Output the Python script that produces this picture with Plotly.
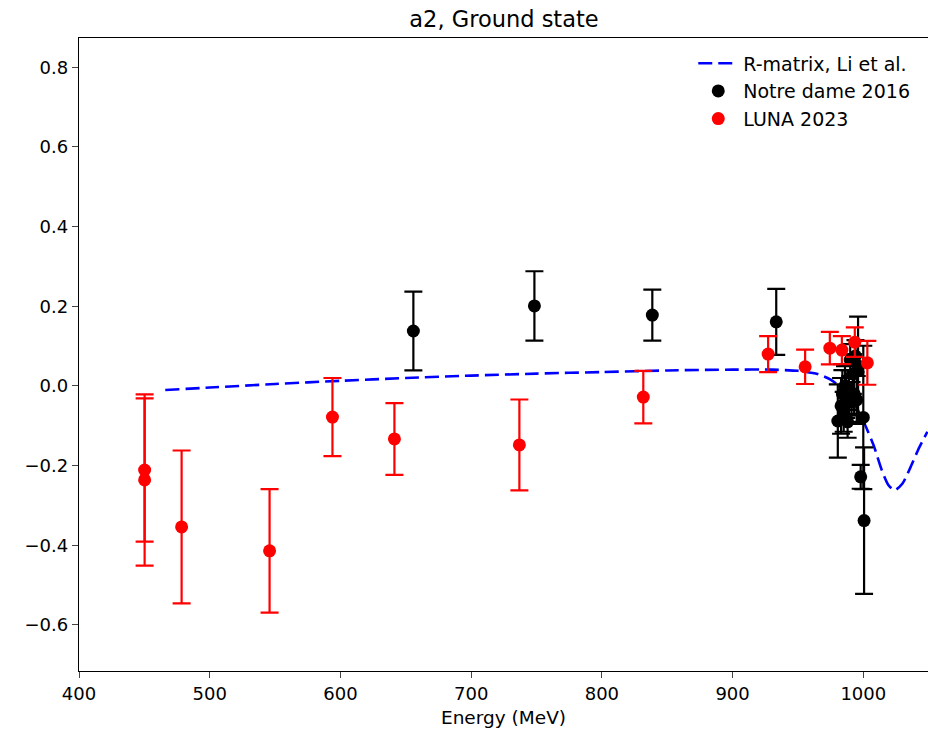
import plotly.graph_objects as go

# R-matrix curve
rm_x = [466, 500, 550, 600, 650, 700, 750, 800, 850, 900, 930, 950, 965, 975,
        985, 995, 1001, 1008, 1014, 1019, 1024, 1030, 1036, 1042, 1049]
rm_y = [-0.010, -0.004, 0.005, 0.013, 0.020, 0.026, 0.031, 0.035, 0.039, 0.041,
        0.041, 0.038, 0.030, 0.016, -0.010, -0.055, -0.095, -0.150, -0.210,
        -0.248, -0.262, -0.245, -0.205, -0.160, -0.115]

# Notre Dame 2016
nd_x = [655.8, 748.4, 838.6, 933.4,
        980.5, 983, 984, 985, 986, 987, 988, 989, 990, 991, 992, 993, 994,
        995, 996, 998, 1000, 1000.6]
nd_y = [0.138, 0.201, 0.178, 0.161,
        -0.088, -0.050, -0.020, -0.065, 0.000, -0.030, -0.090, -0.010, 0.065,
        -0.040, 0.030, -0.020, 0.075, -0.035, 0.050, -0.228, -0.079, -0.338]
nd_err = [0.099, 0.087, 0.064, 0.083,
          0.092, 0.070, 0.060, 0.050, 0.050, 0.050, 0.040, 0.050, 0.040,
          0.050, 0.050, 0.050, 0.040, 0.060, 0.124, 0.030, 0.180, 0.184]

# LUNA 2023
luna_x = [450.2, 450.2, 478.5, 545.8, 593.9, 641.3, 736.9, 831.7, 927.2,
          955.5, 974.4, 983.6, 993.5, 1003.1]
luna_y = [-0.211, -0.236, -0.354, -0.414, -0.078, -0.133, -0.148, -0.028,
          0.080, 0.048, 0.095, 0.090, 0.110, 0.058]
luna_err = [0.180, 0.215, 0.192, 0.155, 0.098, 0.090, 0.114, 0.066, 0.045,
            0.043, 0.041, 0.035, 0.037, 0.055]

x_ticks = [400, 500, 600, 700, 800, 900, 1000]
y_ticks = [-0.6, -0.4, -0.2, 0.0, 0.2, 0.4, 0.6, 0.8]
y_labels = [("\u2212%.1f" % abs(v)) if v < 0 else "%.1f" % v for v in y_ticks]

FONT = "DejaVu Sans"

fig = go.Figure()
fig.add_trace(go.Scatter(
    x=rm_x, y=rm_y, mode="lines", name="R-matrix, Li et al.",
    line=dict(color="#0000ff", width=2.6, dash="14px,6px", shape="spline", smoothing=0.6),
))
fig.add_trace(go.Scatter(
    x=nd_x, y=nd_y, mode="markers", name="Notre dame 2016",
    marker=dict(color="black", size=13),
    error_y=dict(type="data", array=nd_err, color="black", thickness=2.2, width=9),
))
fig.add_trace(go.Scatter(
    x=luna_x, y=luna_y, mode="markers", name="LUNA 2023",
    marker=dict(color="#ff0000", size=13),
    error_y=dict(type="data", array=luna_err, color="#ff0000", thickness=2.2, width=9),
))

fig.update_layout(
    width=928, height=731,
    margin=dict(l=79, r=0, t=38, b=60),
    paper_bgcolor="white", plot_bgcolor="white",
    font=dict(family=FONT, size=18, color="black"),
    title=dict(text="a2, Ground state", x=504 / 928, xanchor="center",
               y=1 - 19 / 731, yanchor="middle", font=dict(size=22.5)),
    showlegend=True,
    legend=dict(x=0.985, xanchor="right", y=0.99, yanchor="top",
                bgcolor="rgba(255,255,255,0)", font=dict(size=19),
                traceorder="normal", itemwidth=40),
)
fig.update_xaxes(
    range=[400, 1049.5], tickvals=x_ticks, ticks="outside", ticklen=6, tickwidth=1.2,
    showline=True, linecolor="black", linewidth=1.4, mirror=True, showgrid=False,
    zeroline=False, title=dict(text="Energy (MeV)", standoff=8, font=dict(size=18.5)),
)
fig.update_yaxes(
    range=[-0.7156, 0.8736], tickvals=y_ticks, ticktext=y_labels, ticks="outside",
    ticklen=6, tickwidth=1.2, showline=True, linecolor="black", linewidth=1.4,
    mirror=True, showgrid=False, zeroline=False,
)

fig.write_html("out.html")
